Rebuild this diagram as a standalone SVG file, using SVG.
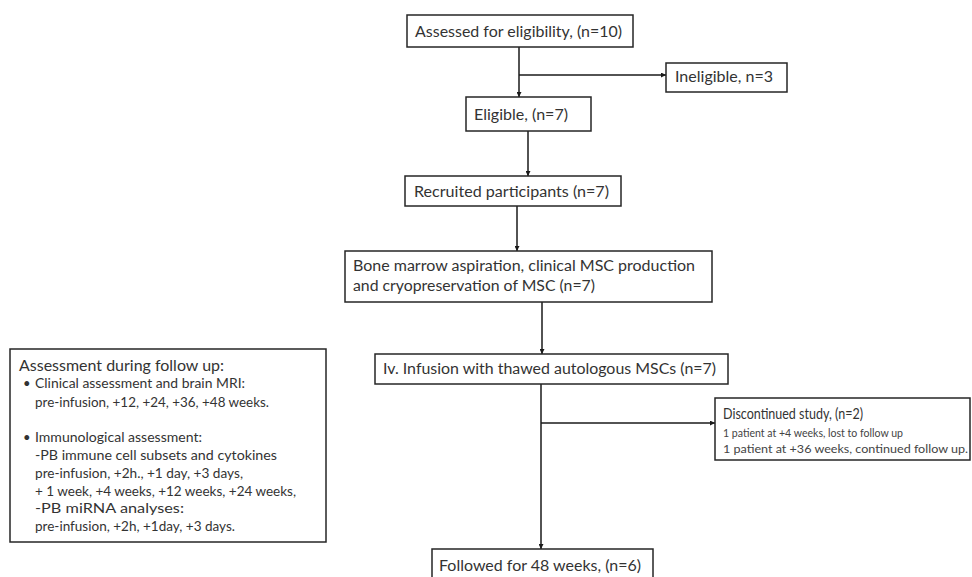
<svg xmlns="http://www.w3.org/2000/svg" width="972" height="577" viewBox="0 0 972 577">
<defs>
<style>
.box{fill:#fff;stroke:#262626;stroke-width:1.5}
.t{font-family:Lato,"Open Sans","Liberation Sans",sans-serif;fill:#333;font-size:14.5px}
.s{font-family:Lato,"Open Sans","Liberation Sans",sans-serif;fill:#333;font-size:13px}
.xs{font-family:Lato,"Open Sans","Liberation Sans",sans-serif;fill:#444;font-size:10.5px}
.c{stroke:#1a1a1a;stroke-width:1.5;fill:none;marker-end:url(#ah)}
</style>
<marker id="ah" viewBox="0 0 10 10" refX="10" refY="5" markerWidth="5" markerHeight="5" orient="auto" markerUnits="userSpaceOnUse">
<path d="M0,0 L10,5 L0,10 z" fill="#1a1a1a"/>
</marker>
</defs>
<rect width="972" height="577" fill="#fff"/>
<g id="connectors">
<line class="c" x1="519" y1="47" x2="519" y2="97"/>
<line class="c" x1="519" y1="75" x2="666" y2="75"/>
<line class="c" x1="528" y1="131" x2="528" y2="176"/>
<line class="c" x1="517" y1="206" x2="517" y2="251"/>
<line class="c" x1="542" y1="302" x2="542" y2="354"/>
<line class="c" x1="541" y1="384" x2="541" y2="549"/>
<line class="c" x1="541" y1="423" x2="715" y2="423"/>
</g>
<g id="assessed">
<rect class="box" x="407" y="15" width="226" height="32"/>
<text class="t" x="415" y="37" textLength="207" lengthAdjust="spacingAndGlyphs">Assessed for eligibility, (n=10)</text>
</g>
<g id="ineligible">
<rect class="box" x="666" y="63" width="121" height="29"/>
<text class="t" x="675" y="82" textLength="98" lengthAdjust="spacingAndGlyphs">Ineligible, n=3</text>
</g>
<g id="eligible">
<rect class="box" x="466" y="97" width="125" height="34"/>
<text class="t" x="474" y="120" textLength="94" lengthAdjust="spacingAndGlyphs">Eligible, (n=7)</text>
</g>
<g id="recruited">
<rect class="box" x="405" y="176" width="216" height="30"/>
<text class="t" x="414" y="197" textLength="195" lengthAdjust="spacingAndGlyphs">Recruited participants (n=7)</text>
</g>
<g id="bonemarrow">
<rect class="box" x="345" y="251" width="367" height="51"/>
<text class="t" x="353" y="271" textLength="342" lengthAdjust="spacingAndGlyphs">Bone marrow aspiration, clinical MSC production</text>
<text class="t" x="353" y="291" textLength="242" lengthAdjust="spacingAndGlyphs">and cryopreservation of MSC (n=7)</text>
</g>
<g id="infusion">
<rect class="box" x="375" y="354" width="353" height="30"/>
<text class="t" x="383" y="374" textLength="333" lengthAdjust="spacingAndGlyphs">Iv. Infusion with thawed autologous MSCs (n=7)</text>
</g>
<g id="discontinued">
<rect class="box" x="715" y="398" width="255" height="62"/>
<text class="t" x="723" y="419" style="font-size:15.5px" textLength="140" lengthAdjust="spacingAndGlyphs">Discontinued study, (n=2)</text>
<text class="xs" x="723" y="437" textLength="180" lengthAdjust="spacingAndGlyphs">1 patient at +4 weeks, lost to follow up</text>
<text class="xs" x="723" y="453" textLength="245" lengthAdjust="spacingAndGlyphs">1 patient at +36 weeks, continued follow up.</text>
</g>
<g id="followed">
<rect class="box" x="432" y="549" width="221" height="40"/>
<text class="t" x="439" y="571" textLength="202" lengthAdjust="spacingAndGlyphs">Followed for 48 weeks, (n=6)</text>
</g>
<g id="assessment">
<rect class="box" x="10" y="349" width="316" height="193"/>
<text class="t" x="19" y="371" style="font-size:15px" textLength="205" lengthAdjust="spacingAndGlyphs">Assessment during follow up:</text>
<text class="s" x="23" y="388">•</text>
<text class="s" x="35" y="388" textLength="210" lengthAdjust="spacingAndGlyphs">Clinical assessment and brain MRI:</text>
<text class="s" x="35" y="407" textLength="234" lengthAdjust="spacingAndGlyphs">pre-infusion, +12, +24, +36, +48 weeks.</text>
<text class="s" x="23" y="442">•</text>
<text class="s" x="35" y="442" textLength="167" lengthAdjust="spacingAndGlyphs">Immunological assessment:</text>
<text class="s" x="35" y="460" textLength="242" lengthAdjust="spacingAndGlyphs">-PB immune cell subsets and cytokines</text>
<text class="s" x="35" y="478" textLength="208" lengthAdjust="spacingAndGlyphs">pre-infusion, +2h., +1 day,  +3 days,</text>
<text class="s" x="35" y="496" textLength="261" lengthAdjust="spacingAndGlyphs">+ 1 week, +4 weeks, +12 weeks, +24 weeks,</text>
<text class="s" x="35" y="513" textLength="149" lengthAdjust="spacingAndGlyphs">-PB miRNA analyses:</text>
<text class="s" x="35" y="531" textLength="200" lengthAdjust="spacingAndGlyphs">pre-infusion, +2h, +1day, +3 days.</text>
</g>
</svg>
